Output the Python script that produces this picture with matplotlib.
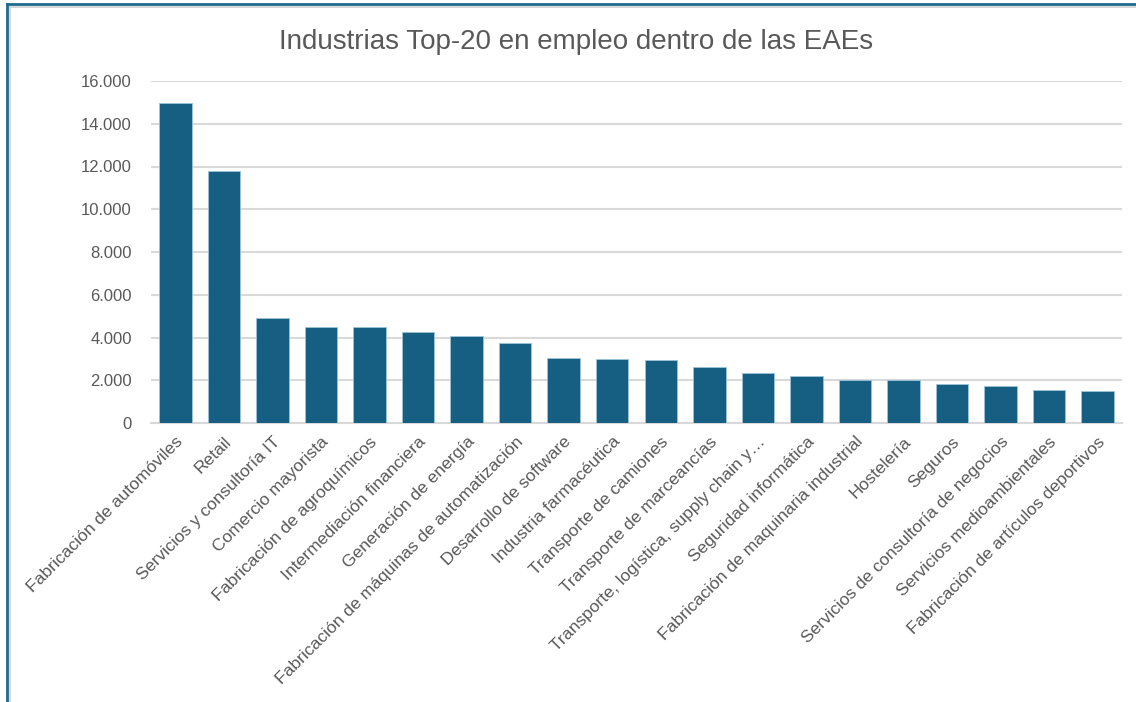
import matplotlib
matplotlib.use("Agg")
import matplotlib.pyplot as plt
from matplotlib.lines import Line2D
from matplotlib.ticker import FuncFormatter
from matplotlib import font_manager

categories = [
    "Fabricación de automóviles",
    "Retail",
    "Servicios y consultoría IT",
    "Comercio mayorista",
    "Fabricación de agroquímicos",
    "Intermediación financiera",
    "Generación de energía",
    "Fabricación de máquinas de automatización",
    "Desarrollo de software",
    "Industria farmacéutica",
    "Transporte de camiones",
    "Transporte de marceancías",
    "Transporte, logística, supply chain y…",
    "Seguridad informática",
    "Fabricación de maquinaria industrial",
    "Hostelería",
    "Seguros",
    "Servicios de consultoría de negocios",
    "Servicios medioambientales",
    "Fabricación de artículos deportivos",
]
values = [14970, 11790, 4930, 4500, 4500, 4260, 4060, 3730, 3050, 2980,
          2930, 2600, 2360, 2200, 2030, 1990, 1830, 1750, 1550, 1510]
yticks = [0, 2000, 4000, 6000, 8000, 10000, 12000, 14000, 16000]
title = "Industrias Top-20 en empleo dentro de las EAEs"

W, H = 1136, 702
fig = plt.figure(figsize=(W / 100, H / 100), dpi=100)
fig.patch.set_facecolor("white")

installed = {f.name for f in font_manager.fontManager.ttflist}
label_font = "Liberation Sans" if "Liberation Sans" in installed else "DejaVu Sans"
title_font = "Liberation Sans Narrow" if "Liberation Sans Narrow" in installed else label_font
title_size = 21 if title_font.endswith("Narrow") else 20

left, right, bottom, top = 151.2, 1121.8, 423, 81
ax = fig.add_axes([left / W, 1 - bottom / H, (right - left) / W, (bottom - top) / H])

x = list(range(len(categories)))
ax.bar(x, values, width=0.67, color="#175F82", edgecolor="#9CC3D6", linewidth=0.6, zorder=3)
ax.set_xlim(-0.5, len(categories) - 0.5)
ax.set_ylim(0, 16000)
ax.set_yticks(yticks)
ax.yaxis.set_major_formatter(FuncFormatter(lambda v, p: f"{int(v):,}".replace(",", ".")))
ax.grid(axis="y", color="#D9D9D9", linewidth=1.5, zorder=0)
for s in ["top", "right", "left"]:
    ax.spines[s].set_visible(False)
ax.spines["bottom"].set_color("#D9D9D9")
ax.spines["bottom"].set_linewidth(1.5)
ax.tick_params(axis="both", length=0, colors="#595959")
ax.tick_params(axis="y", pad=14, labelsize=12)
ax.set_xticks(x)
ax.set_xticklabels(categories, rotation=45, ha="right", rotation_mode="anchor",
                   fontsize=12.6, color="#595959", family=label_font)
ax.tick_params(axis="x", pad=8)
for t in ax.get_yticklabels():
    t.set_family(label_font)

fig.text(576 / W, 1 - 42 / H, title, ha="center", va="center", fontsize=title_size,
         color="#595959", family=title_font)

# figure frame (blue outer line and light inner line), top and left only visible
fig.add_artist(Line2D([7 / W, 1.01], [1 - 4 / H, 1 - 4 / H], transform=fig.transFigure,
                      color="#1F6A8E", linewidth=2.0))
fig.add_artist(Line2D([7 / W, 7 / W], [1 - 4 / H, -0.01], transform=fig.transFigure,
                      color="#1F6A8E", linewidth=2.0))
fig.add_artist(Line2D([9.5 / W, 1.01], [1 - 6.5 / H, 1 - 6.5 / H], transform=fig.transFigure,
                      color="#D0D0D0", linewidth=1.2))
fig.add_artist(Line2D([9.5 / W, 9.5 / W], [1 - 6.5 / H, -0.01], transform=fig.transFigure,
                      color="#D0D0D0", linewidth=1.2))

fig.savefig("out.png", dpi=100, facecolor="white")
